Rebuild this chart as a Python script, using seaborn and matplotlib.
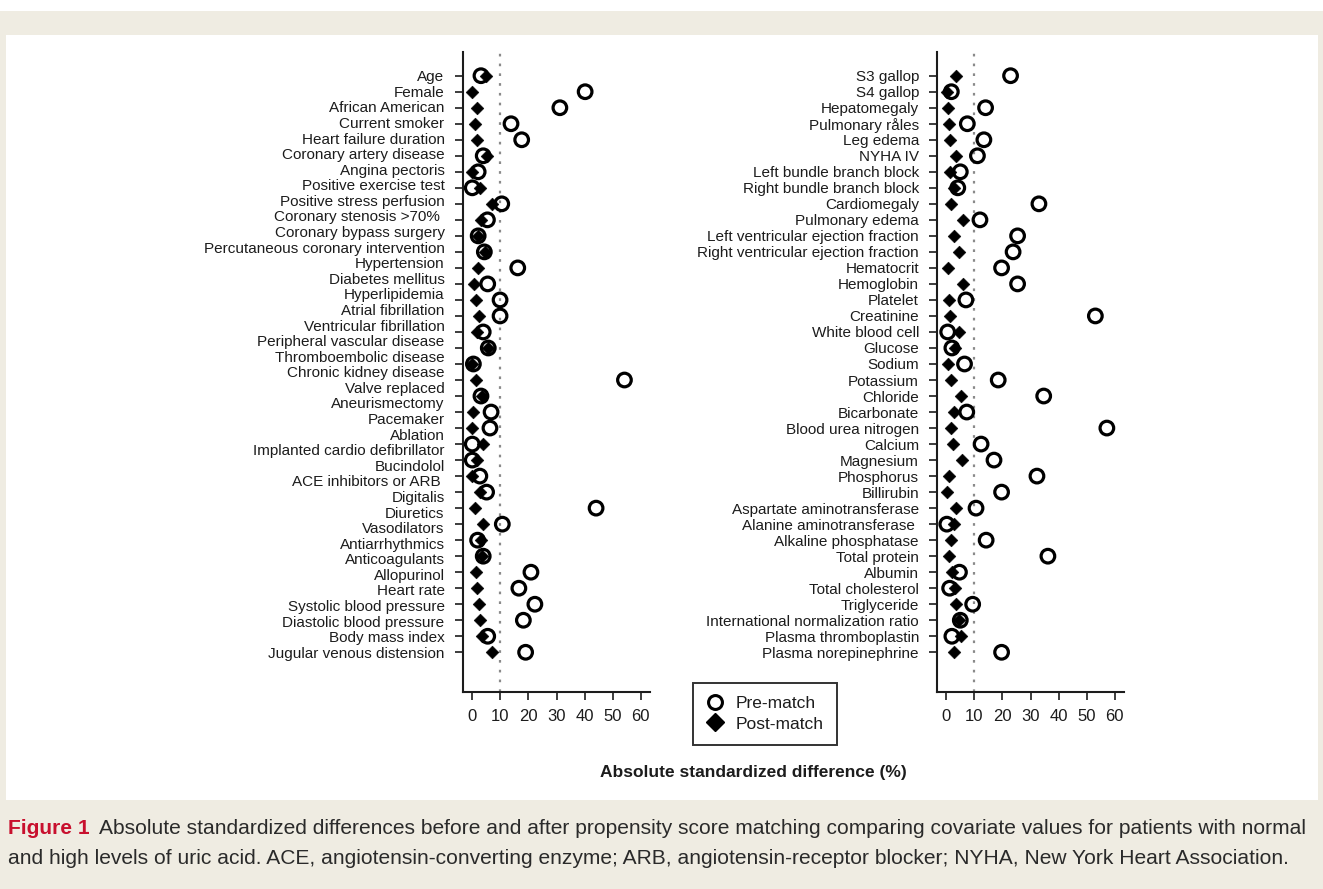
import numpy as np
import pandas as pd
import matplotlib
matplotlib.use("Agg")
import matplotlib.pyplot as plt
from matplotlib.lines import Line2D
from matplotlib.patches import Rectangle
import seaborn as sns

# ---------------------------------------------------------------- data
left_labels = [
    "Age", "Female", "African American", "Current smoker", "Heart failure duration",
    "Coronary artery disease", "Angina pectoris", "Positive exercise test",
    "Positive stress perfusion", "Coronary stenosis >70% ", "Coronary bypass surgery",
    "Percutaneous coronary intervention", "Hypertension", "Diabetes mellitus",
    "Hyperlipidemia", "Atrial fibrillation", "Ventricular fibrillation",
    "Peripheral vascular disease", "Thromboembolic disease", "Chronic kidney disease",
    "Valve replaced", "Aneurismectomy", "Pacemaker", "Ablation",
    "Implanted cardio defibrillator", "Bucindolol", "ACE inhibitors or ARB ",
    "Digitalis", "Diuretics", "Vasodilators", "Antiarrhythmics", "Anticoagulants",
    "Allopurinol", "Heart rate", "Systolic blood pressure", "Diastolic blood pressure",
    "Body mass index", "Jugular venous distension",
]
left_pre = [3.1, 40.2, 31.2, 13.8, 17.6, 3.9, 2.1, 0.0, 10.5, 5.4, 2.1, 4.3, 16.2,
            5.5, 9.9, 9.9, 3.9, 5.7, 0.4, 54.2, 3.1, 6.7, 6.3, 0.0, 0.0, 2.7, 5.1,
            44.1, 10.7, 1.9, 3.9, 20.9, 16.6, 22.3, 18.2, 5.5, 19.0]
left_post = [4.8, 0.0, 1.6, 1.0, 1.6, 5.1, 0.0, 2.7, 7.1, 3.0, 2.1, 4.5, 2.1,
             0.7, 1.2, 2.4, 1.6, 5.7, 0.0, 1.2, 3.3, 0.4, 0.0, 3.9, 1.6, 0.0, 2.7,
             1.0, 3.9, 3.1, 3.6, 1.2, 1.6, 2.4, 2.7, 3.3, 7.1]

right_labels = [
    "S3 gallop", "S4 gallop", "Hepatomegaly", "Pulmonary råles", "Leg edema", "NYHA IV",
    "Left bundle branch block", "Right bundle branch block", "Cardiomegaly",
    "Pulmonary edema", "Left ventricular ejection fraction",
    "Right ventricular ejection fraction", "Hematocrit", "Hemoglobin", "Platelet",
    "Creatinine", "White blood cell", "Glucose", "Sodium", "Potassium", "Chloride",
    "Bicarbonate", "Blood urea nitrogen", "Calcium", "Magnesium", "Phosphorus",
    "Billirubin", "Aspartate aminotransferase", "Alanine aminotransferase ",
    "Alkaline phosphatase", "Total protein", "Albumin", "Total cholesterol",
    "Triglyceride", "International normalization ratio", "Plasma thromboplastin",
    "Plasma norepinephrine",
]
right_pre = [22.9, 1.8, 14.0, 7.5, 13.4, 11.1, 5.0, 4.1, 33.0, 12.0, 25.4, 23.8,
             19.7, 25.4, 7.0, 53.1, 0.5, 2.0, 6.5, 18.5, 34.7, 7.3, 57.2, 12.4,
             17.0, 32.3, 19.7, 10.6, 0.2, 14.2, 36.2, 4.7, 1.2, 9.4, 5.0, 2.0, 19.7]
right_post = [3.4, 0.2, 0.6, 0.9, 1.2, 3.4, 1.2, 2.6, 1.7, 6.1, 2.6, 4.7, 0.6,
              6.1, 0.9, 1.2, 4.7, 3.2, 0.6, 1.7, 5.2, 2.8, 1.8, 2.4, 5.5, 0.9,
              0.2, 3.5, 2.9, 1.8, 0.8, 2.1, 3.2, 3.4, 4.4, 5.2, 2.8]

x_ticks = [0, 10, 20, 30, 40, 50, 60]
threshold = 10
stages = ["Pre-match", "Post-match"]

x_axis_title = "Absolute standardized difference (%)"
caption_head = "Figure 1"
caption_line1 = ("Absolute standardized differences before and after propensity score "
                 "matching comparing covariate values for patients with normal")
caption_line2 = ("and high levels of uric acid. ACE, angiotensin-converting enzyme; ARB, "
                 "angiotensin-receptor blocker; NYHA, New York Heart Association.")

# ---------------------------------------------------------------- style
sns.set_style("ticks")
plt.rcParams["font.family"] = ["Liberation Sans", "DejaVu Sans"]

W, H = 1323, 889
fig = plt.figure(figsize=(W / 100, H / 100), dpi=100)
fig.patch.set_facecolor("white")

BEIGE = "#EFECE2"
INK = "#1c1c1c"
RED = "#C8102E"


def fx(px):
    return px / W


def fy(py):
    return 1 - py / H


# page background: beige band with white plotting panel
fig.add_artist(Rectangle((0, 0), 1, fy(11), transform=fig.transFigure,
                         facecolor=BEIGE, edgecolor="none", zorder=-20))
fig.add_artist(Rectangle((fx(6), fy(800)), fx(1318) - fx(6), fy(35) - fy(800),
                         transform=fig.transFigure, facecolor="white",
                         edgecolor="none", zorder=-19))


def panel(left_px, pre, post, labels, label_rows=None):
    ax = fig.add_axes([fx(left_px), fy(692), fx(187), fy(52) - fy(692)])
    ax.patch.set_alpha(0)
    n = len(pre)
    rows = np.arange(n)
    df = pd.DataFrame({"row": np.concatenate([rows, rows]),
                       "value": np.concatenate([pre, post]),
                       "stage": np.repeat(stages, n)})
    ax.axvline(threshold, color="#8a8a8a", linestyle=(0, (1.2, 3.2)),
               linewidth=1.6, zorder=1)
    sns.scatterplot(data=df[df.stage == "Pre-match"], x="value", y="row", ax=ax,
                    marker="o", s=96, facecolor="none", edgecolor="black",
                    linewidth=2.3, legend=False, zorder=3)
    sns.scatterplot(data=df[df.stage == "Post-match"], x="value", y="row", ax=ax,
                    marker="D", s=42, color="black", edgecolor="black",
                    linewidth=0.4, legend=False, zorder=4)
    ax.set_xlim(-3.3, 63.3)
    ax.set_ylim(n - 1 + 2.48, -1.48)
    ax.set_xticks(x_ticks)
    ax.set_xticklabels([str(t) for t in x_ticks], fontsize=12, color=INK)
    ax.tick_params(axis="x", length=6, width=1.2, pad=6, color=INK)
    if label_rows is None:
        ax.set_yticks(rows)
        ax.set_yticklabels(labels, fontsize=11, color=INK)
        ax.tick_params(axis="y", length=5.5, width=1.2, pad=7.5, color=INK)
    else:
        # tick marks at the data rows, names on their own evenly spaced grid
        ax.yaxis.remove_overlapping_locs = False
        ax.set_yticks(rows)
        ax.set_yticklabels([])
        ax.tick_params(axis="y", which="major", length=5.5, width=1.2, color=INK)
        ax.set_yticks(label_rows, labels=labels, minor=True)
        ax.tick_params(axis="y", which="minor", length=0, pad=13.3,
                       labelsize=11, labelcolor=INK)
    ax.set_xlabel("")
    ax.set_ylabel("")
    sns.despine(ax=ax)
    for side in ("left", "bottom"):
        ax.spines[side].set_linewidth(1.5)
        ax.spines[side].set_color(INK)
    return ax


n_left = len(left_pre)
panel(463, left_pre, left_post, left_labels,
      label_rows=np.linspace(0, n_left - 1, len(left_labels)))
panel(937, right_pre, right_post, right_labels)

# legend box
handles = [
    Line2D([], [], linestyle="none", marker="o", markersize=10,
           markerfacecolor="none", markeredgecolor="black", markeredgewidth=2.2),
    Line2D([], [], linestyle="none", marker="D", markersize=9,
           markerfacecolor="black", markeredgecolor="black"),
]
leg = fig.legend(handles, stages, loc="upper left",
                 bbox_to_anchor=(fx(693), fy(683)), bbox_transform=fig.transFigure,
                 borderaxespad=0, frameon=True, fancybox=False, prop={"size": 12.5},
                 handlelength=1.0, handletextpad=0.7, borderpad=0.75,
                 labelspacing=0.3)
leg.get_frame().set_edgecolor("black")
leg.get_frame().set_linewidth(1.4)
for t in leg.get_texts():
    t.set_color(INK)

fig.text(fx(753), fy(773), x_axis_title, ha="center", va="center",
         fontsize=12.5, fontweight="bold", color=INK)

# caption
cap_family = ["Liberation Sans Narrow", "Liberation Sans"]
renderer = fig.canvas.get_renderer()
size = 14.0
x0 = fx(8)
gap_px = 9


def measure(txt, weight, sz):
    t = fig.text(0, 0, txt, fontsize=sz, fontweight=weight, family=cap_family)
    w = t.get_window_extent(renderer).width
    t.remove()
    return w


w_total = measure(caption_head, "bold", size) + gap_px + measure(caption_line1, "normal", size)
size = size * 1305 / w_total
w_head = measure(caption_head, "bold", size)
fig.text(x0, fy(829), caption_head, fontsize=size, fontweight="bold", color=RED,
         family=cap_family, va="center")
fig.text(x0 + fx(w_head + gap_px), fy(829), caption_line1, fontsize=size,
         color="#2a2a2a", family=cap_family, va="center")
fig.text(x0, fy(858), caption_line2, fontsize=size, color="#2a2a2a",
         family=cap_family, va="center")

fig.savefig("out.png", dpi=100, facecolor=fig.get_facecolor())
